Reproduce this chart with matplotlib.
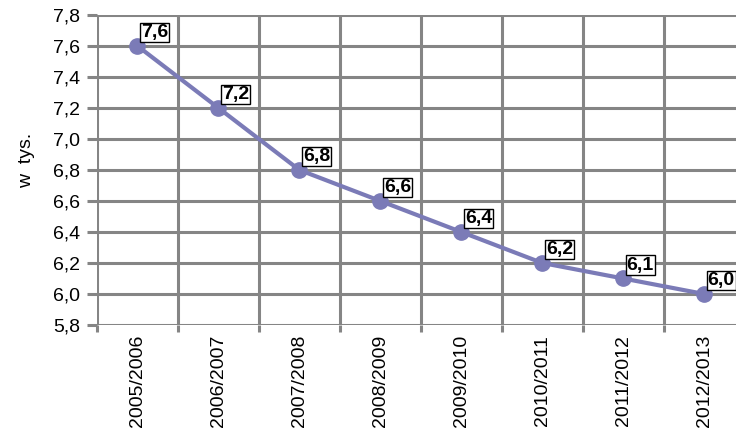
import numpy as np
import matplotlib
matplotlib.use('Agg')
import matplotlib.pyplot as plt

plt.rcParams['font.family'] = ['Liberation Sans', 'DejaVu Sans']

# dane
lata = ['2005/2006', '2006/2007', '2007/2008', '2008/2009',
        '2009/2010', '2010/2011', '2011/2012', '2012/2013']
wartosci = [7.6, 7.2, 6.8, 6.6, 6.4, 6.2, 6.1, 6.0]
y_ticks = [5.8, 6.0, 6.2, 6.4, 6.6, 6.8, 7.0, 7.2, 7.4, 7.6, 7.8]

fig = plt.figure(figsize=(7.36, 4.32), dpi=100)
ax = fig.add_axes([0.1318, 0.2477, 0.880, 0.7176])

x = np.arange(len(lata))
ax.plot(x, wartosci, color='#7b7bb7', lw=3, marker='o', ms=11, zorder=3, clip_on=False)

for xi, v in zip(x, wartosci):
    ax.annotate(('%.1f' % v).replace('.', ','), (xi, v), xytext=(2.5, 3.5),
                textcoords='offset points', fontsize=14, fontweight='bold',
                ha='left', va='bottom', zorder=4, annotation_clip=False,
                bbox=dict(boxstyle='square,pad=0.06', fc='white', ec='black', lw=1))

ax.set_xlim(-0.5, len(lata) - 0.5)
ax.set_ylim(5.8, 7.8)
ax.set_yticks(y_ticks)
ax.set_yticklabels([('%.1f' % t).replace('.', ',') for t in y_ticks], fontsize=14)

# siatka pionowa na granicach kategorii
ax.set_xticks(np.arange(len(lata) + 1) - 0.5)
ax.set_xticklabels([])
ax.set_xticks(x, minor=True)
ax.set_xticklabels(lata, minor=True, rotation=90, fontsize=14)
ax.tick_params(axis='x', which='minor', length=0, pad=7)
ax.tick_params(axis='x', which='major', length=5, width=2.2, color='#858585')
ax.tick_params(axis='y', length=7, width=2.2, color='#858585', pad=5)

ax.grid(True, which='major', color='#858585', lw=2.2)
ax.set_axisbelow(True)
for s in ax.spines.values():
    s.set_visible(False)

ax.set_ylabel('w  tys.', fontsize=14)
ax.yaxis.set_label_coords(-0.095, 0.53)

plt.savefig('out.png', dpi=100)
